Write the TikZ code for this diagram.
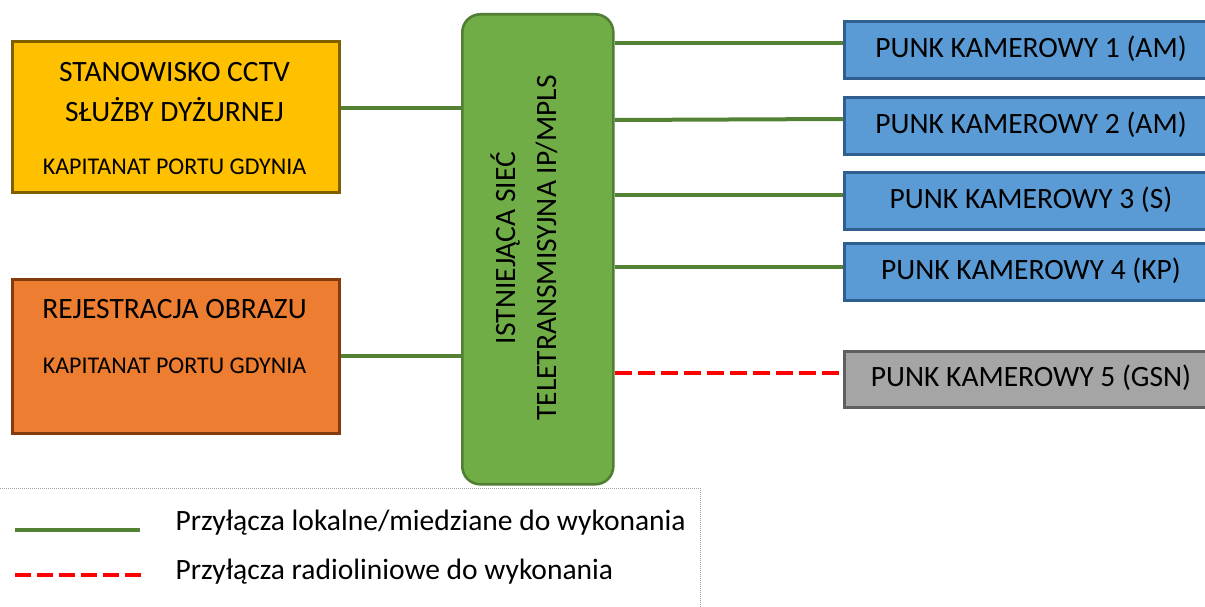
\documentclass[tikz,border=0pt]{standalone}
\usepackage{fontspec}
\setmainfont{Carlito}
\definecolor{ygold}{HTML}{FFC000}
\definecolor{ygoldd}{HTML}{7F6000}
\definecolor{orng}{HTML}{ED7D31}
\definecolor{orngd}{HTML}{843C0C}
\definecolor{netg}{HTML}{70AD47}
\definecolor{netgd}{HTML}{507E32}
\definecolor{linkg}{HTML}{548235}
\definecolor{camb}{HTML}{5B9BD5}
\definecolor{cambd}{HTML}{2E5F8E}
\definecolor{camg}{HTML}{A5A5A5}
\definecolor{camgd}{HTML}{5F5F5F}
\tikzset{
  box/.style={draw, line width=2.6pt, inner sep=0pt, anchor=north west},
  cambox/.style={box, fill=camb, draw=cambd, minimum width=380pt, minimum height=57pt},
  camtext/.style={font=\fontsize{29.5}{35}\selectfont, anchor=center},
  link/.style={draw=linkg, line width=4pt},
  radio/.style={draw=red, line width=4.5pt, dash pattern=on 17pt off 6pt},
  big/.style={font=\fontsize{29.5}{35}\selectfont},
  small/.style={font=\fontsize{24}{29}\selectfont},
}
\begin{document}
\begin{tikzpicture}[x=1pt,y=-1pt]
\useasboundingbox (0,0) rectangle (1205,607);
% left boxes
\node[box, fill=ygold, draw=ygoldd, minimum width=327pt, minimum height=151pt] (cctv) at (11,40) {};
\node[big] (cctv1) at (174.5,72) {STANOWISKO CCTV};
\node[big] (cctv2) at (174.5,110) {SŁUŻBY DYŻURNEJ};
\node[small] (cctv3) at (174.5,167) {KAPITANAT PORTU GDYNIA};
\node[box, fill=orng, draw=orngd, minimum width=327pt, minimum height=154pt] (rej) at (11,278) {};
\node[big] (rej1) at (174.5,309) {REJESTRACJA OBRAZU};
\node[small] (rej2) at (174.5,366) {KAPITANAT PORTU GDYNIA};
% network
\node[box, fill=netg, draw=netgd, rounded corners=18pt, minimum width=151pt, minimum height=470pt] (net) at (461,13) {};
\node[rotate=90, align=center, font=\fontsize{29.5}{41}\selectfont] (netlabel) at (524,248) {ISTNIEJĄCA SIEĆ\\TELETRANSMISYJNA IP/MPLS};
% cameras
\node[cambox] (cam1) at (843,20) {};
\node[camtext] (cam1t) at (1031,48.5) {PUNK KAMEROWY 1 (AM)};
\node[cambox] (cam2) at (843,96) {};
\node[camtext] (cam2t) at (1031,124.5) {PUNK KAMEROWY 2 (AM)};
\node[cambox] (cam3) at (843,171) {};
\node[camtext] (cam3t) at (1031,199.5) {PUNK KAMEROWY 3 (S)};
\node[cambox] (cam4) at (843,242) {};
\node[camtext] (cam4t) at (1031,270.5) {PUNK KAMEROWY 4 (KP)};
\node[cambox, fill=camg, draw=camgd, minimum height=56pt] (cam5) at (843,350) {};
\node[camtext] (cam5t) at (1031,378) {PUNK KAMEROWY 5 (GSN)};
% connectors
\draw[link] (cctv.east |- 0,108) -- (net.west |- 0,108);
\draw[link] (rej.east |- 0,356) -- (net.west |- 0,356);
\draw[link] (net.east |- 0,43) -- (cam1.west |- 0,43);
\draw[link] (net.east |- 0,120) -- (cam2.west |- 0,119);
\draw[link] (net.east |- 0,195) -- (cam3.west |- 0,195);
\draw[link] (net.east |- 0,267) -- (cam4.west |- 0,267);
\draw[radio] (net.east |- 0,373) -- (cam5.west |- 0,373);
% legend
\coordinate (lgtl) at (0,488);
\coordinate (lgtr) at (700,488);
\coordinate (lgbr) at (700,607);
\draw[gray!70, densely dotted, line width=1pt] (lgtl) -- (lgtr) -- (lgbr);
\coordinate (l1a) at (15,530);
\coordinate (l1b) at (140,530);
\draw[link] (l1a) -- (l1b);
\coordinate (l2a) at (15,575);
\coordinate (l2b) at (143,575);
\draw[radio, dash pattern=on 16pt off 6pt] (l2a) -- (l2b);
\node[anchor=west, font=\fontsize{29.5}{35}\selectfont] (leg1) at (172,523) {Przyłącza lokalne/miedziane do wykonania};
\node[anchor=west, font=\fontsize{29.5}{35}\selectfont] (leg2) at (172,572) {Przyłącza radioliniowe do wykonania};
\end{tikzpicture}
\end{document}
